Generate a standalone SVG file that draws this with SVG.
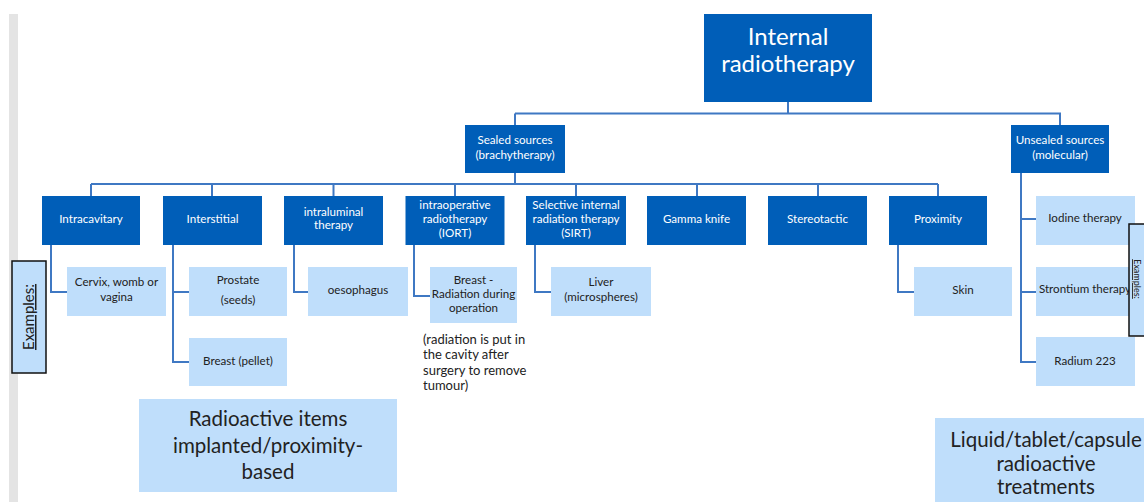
<svg xmlns="http://www.w3.org/2000/svg" width="1144" height="502" viewBox="0 0 1144 502">
  <style>
    text { font-family: Lato, "Liberation Sans", sans-serif; text-anchor: middle; }
    .dark { fill: #005eb8; }
    .light { fill: #bfdefb; }
    .wt { fill: #ffffff; font-size: 11.6px; }
    .bt { fill: #222222; font-size: 11.6px; }
    .conn { fill: none; stroke: #3f78c3; stroke-width: 2; }
    .note { fill: #222222; font-size: 13px; text-anchor: start; }
    .big { fill: #222222; font-size: 20.5px; }
  </style>

  <!-- page margin strip -->
  <rect x="9" y="14" width="9" height="488" fill="#e4e4e4"/>

  <!-- connectors -->
  <g id="connectors" class="conn">
    <path d="M788 102 V113.5 M515 113.5 H1060 V125 M515 113.5 V125"/>
    <path d="M515 173 V184 M91 184 H938 M91 184 V196 M212 184 V196 M333.5 184 V196 M455 184 V196 M576 184 V196 M697 184 V196 M818 184 V196 M938 184 V196"/>
    <path d="M51 245 V292 H67"/>
    <path d="M173 245 V362 H189 M173 292 H189"/>
    <path d="M294 245 V292 H308"/>
    <path d="M414 245 V296 H430"/>
    <path d="M535 245 V292 H551"/>
    <path d="M898 245 V292 H914"/>
    <path d="M1021 173 V362 H1036 M1021 219 H1036 M1021 292 H1036"/>
  </g>

  <!-- root -->
  <g id="n-internal">
    <rect class="dark" x="704" y="14" width="168" height="88"/>
    <text x="788" y="45" fill="#fff" font-size="24">Internal</text>
    <text x="788" y="72" fill="#fff" font-size="24">radiotherapy</text>
  </g>

  <g id="n-sealed">
    <rect class="dark" x="465" y="125" width="100" height="48"/>
    <text class="wt" x="515" y="144">Sealed sources</text>
    <text class="wt" x="515" y="159">(brachytherapy)</text>
  </g>

  <g id="n-unsealed">
    <rect class="dark" x="1011" y="125" width="98" height="48"/>
    <text class="wt" x="1060" y="144">Unsealed sources</text>
    <text class="wt" x="1060" y="159">(molecular)</text>
  </g>

  <!-- brachytherapy types -->
  <g id="n-intracavitary">
    <rect class="dark" x="42" y="196" width="98" height="49"/>
    <text class="wt" x="91" y="222.5">Intracavitary</text>
  </g>
  <g id="n-interstitial">
    <rect class="dark" x="163" y="196" width="99" height="49"/>
    <text class="wt" x="212.5" y="222.5">Interstitial</text>
  </g>
  <g id="n-intraluminal">
    <rect class="dark" x="284" y="196" width="99" height="49"/>
    <text class="wt" x="333.5" y="215.5">intraluminal</text>
    <text class="wt" x="333.5" y="229">therapy</text>
  </g>
  <g id="n-iort">
    <rect class="dark" x="405.5" y="196" width="99" height="49"/>
    <text class="wt" x="455" y="208.5">intraoperative</text>
    <text class="wt" x="455" y="222.5">radiotherapy</text>
    <text class="wt" x="455" y="236.5">(IORT)</text>
  </g>
  <g id="n-sirt">
    <rect class="dark" x="526" y="196" width="100" height="49"/>
    <text class="wt" x="576" y="208.5">Selective internal</text>
    <text class="wt" x="576" y="222.5">radiation therapy</text>
    <text class="wt" x="576" y="236.5">(SIRT)</text>
  </g>
  <g id="n-gamma">
    <rect class="dark" x="647" y="196" width="99" height="49"/>
    <text class="wt" x="696.5" y="222.5">Gamma knife</text>
  </g>
  <g id="n-stereotactic">
    <rect class="dark" x="768" y="196" width="99" height="49"/>
    <text class="wt" x="817.5" y="222.5">Stereotactic</text>
  </g>
  <g id="n-proximity">
    <rect class="dark" x="889" y="196" width="98" height="49"/>
    <text class="wt" x="938" y="222.5">Proximity</text>
  </g>

  <!-- examples -->
  <g id="n-cervix">
    <rect class="light" x="67" y="267" width="99" height="49"/>
    <text class="bt" x="116.5" y="286">Cervix, womb or</text>
    <text class="bt" x="116.5" y="300.5">vagina</text>
  </g>
  <g id="n-prostate">
    <rect class="light" x="189" y="267" width="98" height="49"/>
    <text class="bt" x="238" y="284">Prostate</text>
    <text class="bt" x="238" y="304">(seeds)</text>
  </g>
  <g id="n-breast-pellet">
    <rect class="light" x="189" y="338" width="98" height="48"/>
    <text class="bt" x="238" y="365">Breast (pellet)</text>
  </g>
  <g id="n-oesophagus">
    <rect class="light" x="308" y="267" width="100" height="49"/>
    <text class="bt" x="358" y="294">oesophagus</text>
  </g>
  <g id="n-breast-op">
    <rect class="light" x="430" y="267" width="87" height="56"/>
    <text class="bt" x="473.5" y="284">Breast -</text>
    <text class="bt" x="473.5" y="298">Radiation during</text>
    <text class="bt" x="473.5" y="311.5">operation</text>
  </g>
  <g id="n-iort-note">
    <text class="note" x="423" y="344">(radiation is put in</text>
    <text class="note" x="423" y="359">the cavity after</text>
    <text class="note" x="423" y="374.5">surgery to remove</text>
    <text class="note" x="423" y="390">tumour)</text>
  </g>
  <g id="n-liver">
    <rect class="light" x="551" y="267" width="100" height="49"/>
    <text class="bt" x="601" y="286">Liver</text>
    <text class="bt" x="601" y="300.5">(microspheres)</text>
  </g>
  <g id="n-skin">
    <rect class="light" x="914" y="267" width="98" height="49"/>
    <text class="bt" x="963" y="294">Skin</text>
  </g>
  <g id="n-iodine">
    <rect class="light" x="1036" y="196" width="99" height="49"/>
    <text class="bt" x="1085" y="222">Iodine therapy</text>
  </g>
  <g id="n-strontium">
    <rect class="light" x="1036" y="267" width="99" height="49"/>
    <text class="bt" x="1085" y="293">Strontium therapy</text>
  </g>
  <g id="n-radium">
    <rect class="light" x="1036" y="337" width="99" height="49"/>
    <text class="bt" x="1085" y="365">Radium 223</text>
  </g>

  <!-- side labels -->
  <g id="n-examples-left">
    <rect x="12" y="261" width="34" height="112" fill="#bfdefb" stroke="#111" stroke-width="1.5"/>
    <text x="0" y="0" fill="#222" font-size="15" text-decoration="underline" transform="translate(34 317) rotate(-90)">Examples:</text>
  </g>
  <g id="n-examples-right">
    <rect x="1129" y="224" width="30" height="112" fill="#bfdefb" stroke="#111" stroke-width="1.5"/>
    <text x="0" y="0" fill="#222" font-size="9" text-decoration="underline" transform="translate(1134 279) rotate(90)">Examples:</text>
  </g>

  <!-- summary boxes -->
  <g id="n-sealed-summary">
    <rect class="light" x="139" y="399" width="258" height="93"/>
    <text class="big" x="268" y="426">Radioactive items</text>
    <text class="big" x="268" y="452.5">implanted/proximity-</text>
    <text class="big" x="268" y="479">based</text>
  </g>
  <g id="n-unsealed-summary">
    <rect class="light" x="935" y="418" width="220" height="90"/>
    <text class="big" x="1046" y="446.5">Liquid/tablet/capsule</text>
    <text class="big" x="1046" y="470.5">radioactive</text>
    <text class="big" x="1046" y="493.5">treatments</text>
  </g>
</svg>
